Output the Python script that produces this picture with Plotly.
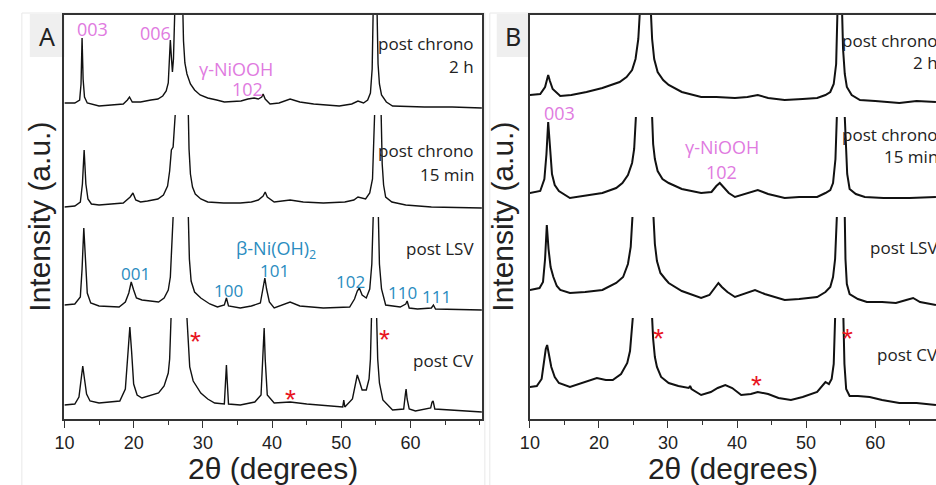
import plotly.graph_objects as go

W, H = 936, 485

# ---------------- data (2theta in degrees, intensity in a.u. above each trace's offset) -------------
offsets = {"post CV": 0, "post LSV": 100, "post chrono 15 min": 200, "post chrono 2 h": 300}

# Panel A  (None = top of a clipped peak)
a_2h_x = [10.0, 11.5, 12.2, 12.4, 12.55, 12.7, 12.9, 13.3, 15.0, 17.0, 18.5, 19.1, 19.4, 19.8, 21.0, 22.5, 23.5,
          24.2, 24.7, 25.0, 25.2, 25.3, 25.45, 25.6, 25.75, 25.95,
          None, 27.1, 27.2, 27.4, 27.7, 28.2, 28.8, 29.6, 30.7, 32.0, 33.1, 35.5, 36.5, 37.4, 38.0, 38.5, 38.7, 39.0,
          39.7, 41.0, 42.6, 44.0, 46.0, 49.7, 51.5, 52.4, 53.2, 53.8, 54.2, 54.45, 54.6,
          None, 55.15, 55.3, 55.5, 55.8, 56.5, 57.4, 62.0, 66.0, 70.3]
a_2h_y = [16, 16, 19, 35, 81, 40, 22, 16, 13, 14, 15, 19, 22, 17, 17, 19, 20,
          23, 28, 36, 58, 79, 62, 47, 60, 110,
          None, 110, 78, 56, 45, 35, 29, 24, 21, 19, 17, 18, 20, 21, 20, 22, 25, 20,
          15, 16, 20, 17, 15, 13, 15, 18, 16, 19, 26, 50, 110,
          None, 110, 55, 35, 24, 17, 13, 12, 12, 11]

a_15m_x = [10.0, 11.5, 12.3, 12.6, 12.85, 13.1, 13.4, 13.9, 15.0, 18.5, 19.5, 19.9, 20.3, 21.0, 22.0, 23.5, 24.3,
           24.9, 25.2, 25.45, 25.7, 25.85, 26.0,
           None, 27.9, 28.0, 28.2, 28.5, 28.9, 29.7, 30.7, 33.0, 35.4, 37.0, 38.0, 38.7, 39.0, 39.3, 40.3, 42.6, 44.5,
           47.4, 50.5, 51.8, 52.4, 52.8, 53.5, 54.1, 54.5, 54.8,
           None, 55.75, 55.9, 56.1, 56.4, 57.3, 59.3, 63.0, 70.3]
a_15m_y = [12, 13, 17, 35, 69, 35, 20, 15, 14, 16, 22, 26, 19, 17, 18, 20, 24,
           33, 48, 69, 72, 85, 104,
           None, 104, 70, 45, 32, 25, 20, 17, 16, 16, 17, 19, 23, 27, 22, 17, 19, 17,
           16, 17, 19, 22, 21, 20, 26, 40, 104,
           None, 104, 55, 34, 22, 17, 14, 12, 11]

a_lsv_x = [10.0, 11.5, 12.3, 12.55, 12.8, 13.05, 13.3, 13.8, 15.0, 17.9, 18.8, 19.3, 19.65, 20.0, 20.4, 21.2, 23.6,
           24.4, 25.0, 25.3, 25.5, 25.7,
           None, 27.9, 28.05, 28.3, 28.8, 29.7, 31.0, 32.1, 33.1, 33.4, 33.7, 35.4, 37.0, 38.3, 38.7, 38.95, 39.2,
           39.6, 40.3, 42.6, 44.0, 47.4, 51.2, 51.9, 52.3, 52.6, 53.0, 53.6, 54.1, 54.4, 54.6,
           None, 55.35, 55.5, 55.8, 56.4, 58.5, 59.3, 59.5, 59.8, 61.0, 63.0, 63.3, 63.6, 70.3]
a_lsv_y = [14, 15, 22, 50, 91, 50, 26, 16, 13, 12, 17, 26, 37, 29, 21, 19, 17,
           21, 29, 42, 66, 102,
           None, 102, 60, 38, 27, 21, 15, 12, 14, 21, 13, 11, 13, 16, 30, 41, 30,
           17, 11, 17, 13, 11, 12, 20, 28, 31, 24, 21, 30, 55, 102,
           None, 102, 55, 30, 14, 12, 15, 18, 11, 10, 11, 14, 10, 9]

a_cv_x = [10.0, 11.5, 12.1, 12.4, 12.65, 12.9, 13.2, 13.7, 15.0, 18.0, 18.8, 19.2, 19.45, 19.7, 20.0, 20.5, 21.2,
          23.6, 24.4, 25.0, 25.2, 25.4,
          None, 27.7, 27.9, 28.1, 28.6, 29.7, 30.7, 31.7, 33.1, 33.3, 33.4, 33.5, 33.7, 35.4, 37.5, 38.4, 38.7, 38.85,
          39.0, 39.3, 40.3, 42.6, 45.0, 49.7, 50.2, 50.35, 50.5, 51.6, 52.0, 52.3, 52.6, 53.0, 53.6, 54.0, 54.2, 54.35,
          None, 55.1, 55.25, 55.5, 56.0, 57.4, 59.0, 59.25, 59.35, 59.5, 59.8, 60.7, 62.9, 63.1, 63.25, 63.5, 70.3]
a_cv_y = [14, 15, 22, 40, 53, 40, 25, 18, 16, 18, 30, 68, 92, 68, 35, 24, 21,
          26, 33, 46, 60, 101,
          None, 101, 70, 52, 38, 26, 20, 16, 15, 40, 54, 40, 15, 14, 17, 24, 60, 91,
          60, 24, 16, 17, 15, 12, 12, 19, 12, 20, 32, 44, 38, 29, 29, 40, 60, 101,
          None, 101, 60, 36, 19, 9, 10, 25, 30, 20, 10, 8, 11, 17, 18, 10, 7]

# Panel B
b_2h_x = [10.0, 11.5, 12.2, 12.5, 12.65, 12.9, 13.3, 14.4, 16.0, 18.2, 20.5, 23.0, 24.0, 24.8, 25.3, 25.7, 25.95,
          None, 27.5, 27.7, 28.0, 28.5, 29.3, 30.1, 32.0, 34.8, 37.0, 39.7, 41.5, 43.0, 44.5, 46.9, 49.5, 51.6, 52.8,
          53.5, 54.0, 54.35, 54.55,
          None, 55.2, 55.35, 55.6, 55.9, 56.6, 57.8, 60.0, 63.5, 66.0, 68.8]
b_2h_y = [24, 25, 32, 40, 44, 38, 30, 23, 24, 27, 31, 37, 42, 49, 60, 80, 110,
          None, 110, 80, 60, 47, 39, 34, 27, 22, 22, 21, 22, 24, 21, 19, 20, 21, 24,
          27, 35, 55, 110,
          None, 110, 70, 45, 32, 24, 19, 18, 16, 18, 17]

b_15m_x = [10.0, 11.5, 12.1, 12.4, 12.65, 12.9, 13.2, 13.6, 14.2, 15.8, 18.0, 20.5, 22.5, 23.4, 24.2, 24.8, 25.1, 25.35,
           None, 27.7, 27.85, 28.1, 28.5, 29.2, 30.1, 32.0, 34.8, 36.3, 37.0, 37.5, 38.0, 38.8, 39.7, 41.5, 43.0, 44.5,
           46.9, 49.0, 51.6, 52.8, 53.5, 53.9, 54.25, 54.45,
           None, 55.6, 55.75, 55.95, 56.3, 57.2, 58.5, 61.2, 65.0, 68.8]
b_15m_y = [26, 28, 40, 65, 97, 70, 45, 34, 28, 21, 23, 26, 31, 36, 44, 56, 70, 102,
           None, 102, 75, 60, 48, 40, 36, 30, 26, 27, 33, 36, 32, 26, 22, 26, 29, 25,
           21, 22, 22, 26, 29, 36, 60, 102,
           None, 102, 70, 45, 30, 25, 22, 21, 21, 22]

b_lsv_x = [10.0, 11.4, 11.9, 12.2, 12.45, 12.7, 13.0, 13.4, 13.9, 14.4, 15.8, 18.0, 20.5, 22.5, 23.5, 24.2, 24.6, 24.85,
           None, 27.9, 28.1, 28.4, 28.9, 29.6, 30.1, 32.0, 34.8, 36.0, 36.8, 37.3, 37.8, 38.6, 39.7, 41.5, 42.6, 44.0,
           46.9, 49.0, 51.6, 52.8, 53.5, 53.9, 54.2, 54.45,
           None, 55.6, 55.7, 55.9, 56.3, 57.5, 58.8, 61.0, 63.0, 64.5, 65.5, 66.5, 68.8]
b_lsv_y = [29, 31, 37, 60, 94, 70, 52, 42, 33, 29, 26, 27, 29, 36, 42, 55, 72, 102,
           None, 102, 75, 58, 46, 40, 36, 28, 21, 24, 31, 36, 32, 27, 22, 26, 29, 25,
           19, 20, 22, 27, 32, 42, 60, 102,
           None, 102, 60, 35, 25, 20, 17, 17, 16, 19, 21, 17, 14]

b_cv_x = [10.0, 11.0, 11.7, 12.0, 12.3, 12.5, 12.75, 13.1, 13.6, 14.2, 15.8, 17.5, 18.5, 19.7, 21.0, 22.0, 23.2, 24.1,
          24.5, 24.75, 24.9,
          None, 27.7, 27.85, 28.1, 28.4, 29.0, 30.1, 31.5, 33.0, 33.2, 33.4, 34.8, 36.2, 37.2, 38.3, 39.3, 40.0, 40.6,
          42.0, 43.0, 44.5, 46.0, 47.8, 49.5, 51.6, 52.8, 53.3, 53.7, 54.0, 54.2,
          None, 55.4, 55.55, 55.8, 56.3, 57.5, 59.2, 61.0, 63.5, 66.0, 68.8]
b_cv_y = [32, 33, 40, 55, 70, 74, 66, 52, 42, 36, 32, 36, 38, 41, 39, 39, 45, 56,
          68, 85, 101,
          None, 101, 80, 62, 52, 42, 36, 33, 31, 33, 30, 24, 27, 31, 34, 31, 27, 24,
          25, 27, 25, 21, 19, 22, 27, 37, 35, 40, 55, 101,
          None, 101, 55, 30, 23, 23, 22, 19, 16, 16, 14]

panel_a = [("post chrono 2 h", a_2h_x, a_2h_y), ("post chrono 15 min", a_15m_x, a_15m_y),
           ("post LSV", a_lsv_x, a_lsv_y), ("post CV", a_cv_x, a_cv_y)]
panel_b = [("post chrono 2 h", b_2h_x, b_2h_y), ("post chrono 15 min", b_15m_x, b_15m_y),
           ("post LSV", b_lsv_x, b_lsv_y), ("post CV", b_cv_x, b_cv_y)]

x_ticks = [10, 20, 30, 40, 50, 60]

# ---------------- figure -------------
fig = go.Figure()


def shifted(name, ys):
    off = offsets[name]
    return [None if v is None else v + off for v in ys]


for name, xs, ys in panel_a:
    fig.add_trace(go.Scatter(x=xs, y=shifted(name, ys), mode="lines", name=name,
                             line=dict(color="#111111", width=1.4),
                             connectgaps=False, showlegend=False, xaxis="x", yaxis="y"))
for name, xs, ys in panel_b:
    fig.add_trace(go.Scatter(x=xs, y=shifted(name, ys), mode="lines", name=name,
                             line=dict(color="#111111", width=2.0),
                             connectgaps=False, showlegend=False, xaxis="x2", yaxis="y2"))


def px(x):
    return x / W


def py(y):
    return 1 - y / H


ydom = [py(419), py(15)]
axis_common = dict(showline=True, linecolor="#333333", linewidth=1.5, showgrid=False, zeroline=False,
                   ticks="outside", ticklen=7, tickwidth=1.3, tickcolor="#333333",
                   tickvals=x_ticks, tickfont=dict(family="Liberation Sans, Arial", size=18, color="#222222"),
                   minor=dict(ticks="outside", ticklen=4, tickwidth=1.3, tickcolor="#333333", dtick=5, tick0=0),
                   title=dict(text="2θ (degrees)", font=dict(family="Liberation Sans, Arial", size=30, color="#222222"),
                              standoff=1))
fig.update_layout(
    width=W, height=H, margin=dict(l=0, r=0, t=0, b=0),
    paper_bgcolor="white", plot_bgcolor="white",
    xaxis=dict(domain=[px(55), px(477)], range=[10, 70.3], mirror=True, anchor="y", **axis_common),
    xaxis2=dict(domain=[px(525.5), 1.0], range=[10, 68.81], mirror=True, anchor="y2", **axis_common),
    yaxis=dict(domain=ydom, range=[0, 404], showline=True, mirror=True, linecolor="#333333", linewidth=1.5,
               showticklabels=False, ticks="", showgrid=False, zeroline=False, anchor="x"),
    yaxis2=dict(domain=ydom, range=[0, 404], showline=True, mirror=False, linecolor="#333333", linewidth=1.5,
                showticklabels=False, ticks="", showgrid=False, zeroline=False, anchor="x2"),
)

shapes = []
# faint panel borders
for x0, x1 in [(12, 480), (485, 940)]:
    shapes.append(dict(type="rect", xref="paper", yref="paper", x0=px(x0), x1=px(x1), y0=py(490), y1=py(13),
                       line=dict(color="#e8e8e8", width=1), fillcolor="rgba(0,0,0,0)", layer="below"))
# gray panel label boxes
for x0, x1 in [(20, 55), (492, 524)]:
    shapes.append(dict(type="rect", xref="paper", yref="paper", x0=px(x0), x1=px(x1), y0=py(57), y1=py(14),
                       line=dict(width=0), fillcolor="#efefef", layer="below"))
fig.update_layout(shapes=shapes)

ann = []


def text(x, y, s, color="#222222", size=17, family="Open Sans", xanchor="center", textangle=0):
    ann.append(dict(x=px(x), y=py(y), xref="paper", yref="paper", text=s, showarrow=False, xanchor=xanchor,
                    yanchor="middle", textangle=textangle, font=dict(family=family, size=size, color=color)))


MAG = "#e07ae0"
BLU = "#2a8cc0"
RED = "#e8141e"

# panel labels
text(37, 36, "A", size=25, family="Noto Sans")
text(508, 36, "B", size=25, family="Noto Sans")

# y titles
text(30, 217, "Intensity (a.u.)", size=30, family="Liberation Sans, Arial", textangle=-90)
text(498, 217, "Intensity (a.u.)", size=30, family="Liberation Sans, Arial", textangle=-90)

# panel A labels
text(83, 29, "003", MAG, 18)
text(147, 33, "006", MAG, 18)
text(228, 69, "γ-NiOOH", MAG, 18)
text(240, 89, "102", MAG, 18)
text(471, 43, "post chrono", xanchor="right")
text(471, 67, "2 h", xanchor="right")
text(471, 150, "post chrono", xanchor="right")
text(471, 174, "15 min", xanchor="right")
text(471, 249, "post LSV", xanchor="right")
text(471, 360, "post CV", xanchor="right")
text(269, 250, "β-Ni(OH)<sub>2</sub>", BLU, 18)
text(127, 273, "001", BLU, 17)
text(221, 290, "100", BLU, 17)
text(267, 270, "101", BLU, 17)
text(344, 281, "102", BLU, 17)
text(397, 292, "110", BLU, 17)
text(431, 296, "111", BLU, 17)
STAR = 28
text(187, 341, "*", RED, STAR, "Liberation Sans, Arial")
text(284, 399, "*", RED, STAR, "Liberation Sans, Arial")
text(379, 339, "*", RED, STAR, "Liberation Sans, Arial")

# panel B labels (cut off at the right edge, as in the original)
text(555, 113, "003", MAG, 18)
text(720, 147, "γ-NiOOH", MAG, 18)
text(719, 172, "102", MAG, 18)
text(940, 40, "post chrono", xanchor="right")
text(940, 63, "2 h", xanchor="right")
text(940, 134, "post chrono", xanchor="right")
text(940, 157, "15 min", xanchor="right")
text(940, 248, "post LSV", xanchor="right")
text(940, 354, "post CV", xanchor="right")
text(656, 338, "*", RED, STAR, "Liberation Sans, Arial")
text(755, 385, "*", RED, STAR, "Liberation Sans, Arial")
text(847, 338, "*", RED, STAR, "Liberation Sans, Arial")

fig.update_layout(annotations=ann)

fig.write_html("out.html")
